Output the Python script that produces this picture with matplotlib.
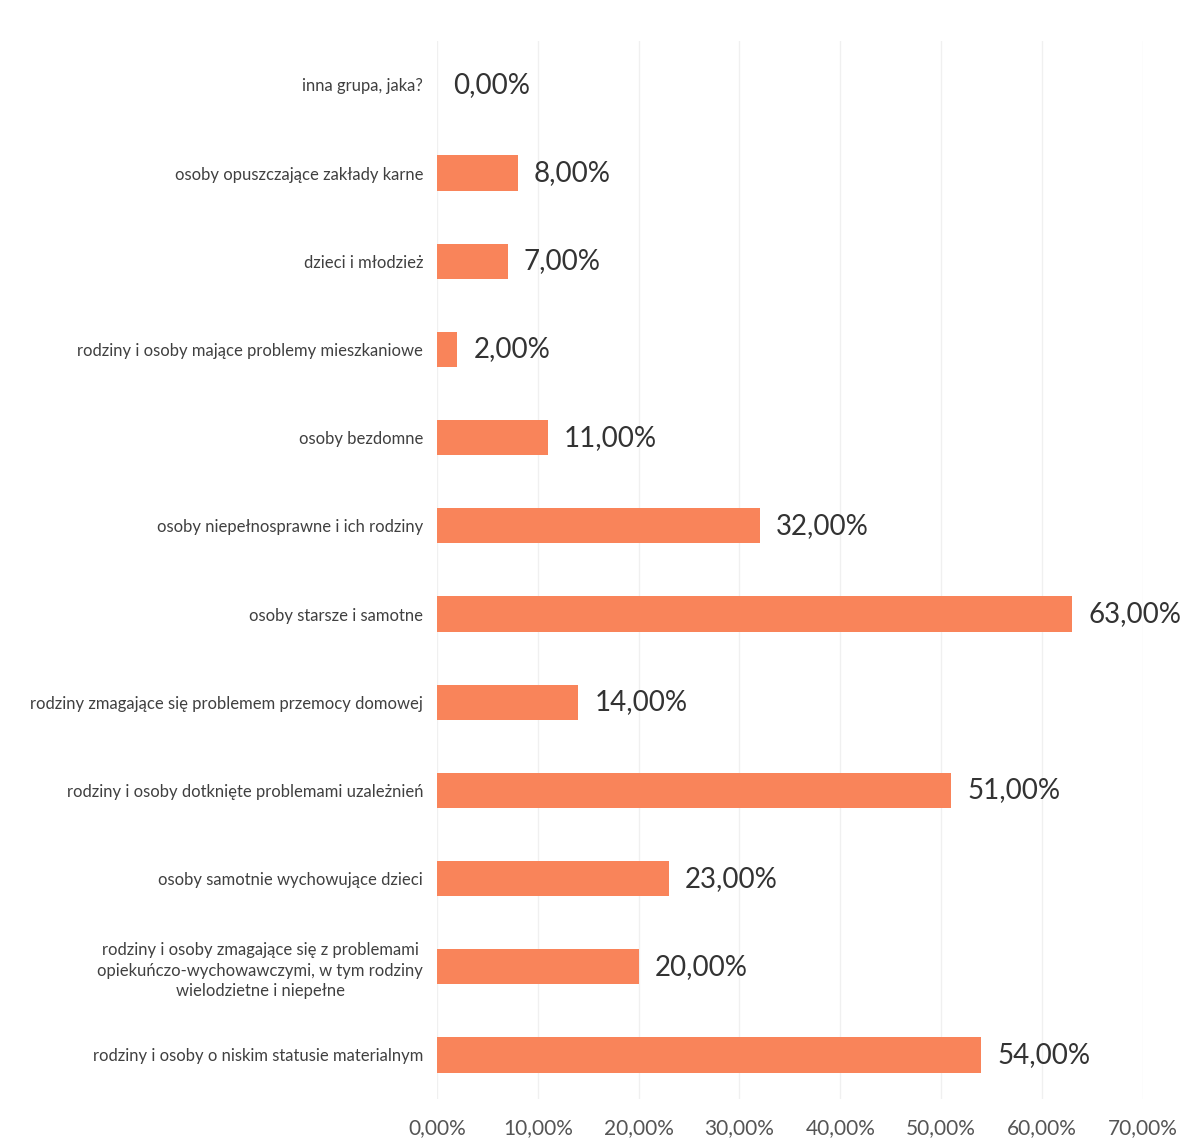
import matplotlib
matplotlib.use("Agg")
import matplotlib.pyplot as plt

plt.rcParams['font.family'] = ['Lato', 'DejaVu Sans']

# dane (od dołu do góry)
categories = [
    "rodziny i osoby o niskim statusie materialnym",
    "rodziny i osoby zmagające się z problemami\nopiekuńczo-wychowawczymi, w tym rodziny\nwielodzietne i niepełne",
    "osoby samotnie wychowujące dzieci",
    "rodziny i osoby dotknięte problemami uzależnień",
    "rodziny zmagające się problemem przemocy domowej",
    "osoby starsze i samotne",
    "osoby niepełnosprawne i ich rodziny",
    "osoby bezdomne",
    "rodziny i osoby mające problemy mieszkaniowe",
    "dzieci i młodzież",
    "osoby opuszczające zakłady karne",
    "inna grupa, jaka?",
]
values = [54, 20, 23, 51, 14, 63, 32, 11, 2, 7, 8, 0]
xticks = [0, 10, 20, 30, 40, 50, 60, 70]

fig = plt.figure(figsize=(11.94, 11.44), dpi=100)
ax = fig.add_axes([0.366, 0.0393, 0.591, 0.925])

y = range(len(categories))
ax.barh(y, values, height=0.4, color="#F9845A", zorder=2)

for yi, v in zip(y, values):
    ax.text(v + 1.6, yi, ("%.2f%%" % v).replace(".", ","), va="center", ha="left",
            fontsize=20, color="#333333")

ax.set_xlim(0, 70)
ax.set_ylim(-0.5, len(categories) - 0.5)
ax.set_yticks(list(y))
ax.set_yticklabels(categories, fontsize=12, color="#404040", multialignment="center",
                   linespacing=1.35)
ax.set_xticks(xticks)
ax.set_xticklabels([("%.2f%%" % t).replace(".", ",") for t in xticks], fontsize=15, color="#555555")
ax.tick_params(axis="both", length=0)
ax.tick_params(axis="y", pad=10)
ax.tick_params(axis="x", pad=14)
ax.grid(axis="x", color="#F0F0F0", linewidth=1, zorder=0)
for s in ax.spines.values():
    s.set_visible(False)

fig.savefig("out.png", dpi=100)
